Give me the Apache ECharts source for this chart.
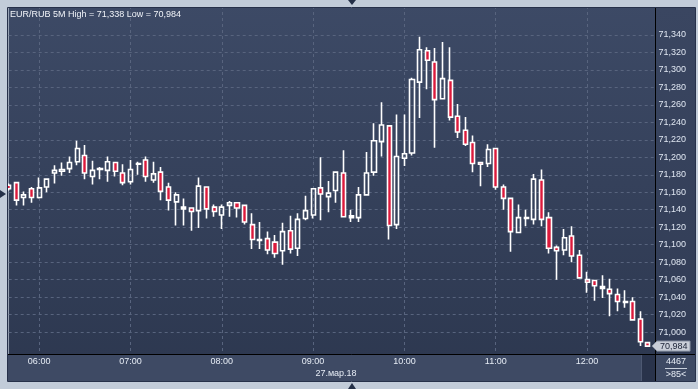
<!DOCTYPE html>
<html><head><meta charset="utf-8">
<script src="https://cdn.jsdelivr.net/npm/echarts@6/dist/echarts.min.js"></script>
<style>html,body{margin:0;padding:0;background:#c2ccd9}#c{width:698px;height:389px}</style>
</head><body><div id="c"></div>
<script>
const times = ['05:40','05:45','05:50','05:55','06:00','06:05','06:10','06:15','06:20','06:25','06:30','06:35','06:40','06:45','06:50','06:55',
'07:00','07:05','07:10','07:15','07:20','07:25','07:30','07:35','07:40','07:45','07:50','07:55',
'08:00','08:05','08:10','08:15','08:20','08:25','08:30','08:35','08:40','08:45','08:50','08:55',
'09:00','09:05','09:10','09:15','09:20','09:25','09:30','09:35','09:40','09:45','09:50','09:55',
'10:00','10:05','10:10','10:15','10:20','10:25','10:30','10:35','10:40','10:45','10:50','10:55',
'11:00','11:05','11:10','11:15','11:20','11:25','11:30','11:35','11:40','11:45','11:50','11:55',
'12:00','12:05','12:10','12:15','12:20','12:25','12:30','12:35','12:40','12:45'];
const opens = [71.168,71.171,71.154,71.164,71.154,71.166,71.182,71.184,71.187,71.195,71.202,71.178,71.186,71.185,71.194,71.182,
71.172,71.192,71.197,71.174,71.183,71.166,71.149,71.141,71.142,71.139,71.166,71.143,
71.134,71.145,71.148,71.145,71.123,71.105,71.107,71.103,71.093,71.116,71.096,71.130,
71.134,71.165,71.155,71.162,71.182,71.131,71.131,71.157,71.183,71.218,71.236,71.123,
71.199,71.205,71.286,71.322,71.309,71.267,71.288,71.247,71.231,71.217,71.194,71.193,
71.210,71.166,71.153,71.114,71.130,71.129,71.174,71.131,71.097,71.094,71.110,71.088,
71.060,71.059,71.052,71.049,71.043,71.034,71.035,71.015,70.988];
const closes = [71.164,71.151,71.157,71.154,71.165,71.175,71.185,71.186,71.194,71.210,71.182,71.185,71.187,71.195,71.184,71.171,
71.186,71.193,71.178,71.181,71.161,71.151,71.157,71.143,71.138,71.167,71.141,71.138,
71.143,71.148,71.142,71.126,71.106,71.106,71.094,71.090,71.115,71.095,71.129,71.139,
71.164,71.158,71.159,71.183,71.132,71.133,71.157,71.182,71.219,71.237,71.122,71.201,
71.204,71.289,71.323,71.311,71.266,71.290,71.246,71.229,71.215,71.193,71.192,71.209,
71.166,71.153,71.115,71.131,71.131,71.175,71.129,71.096,71.093,71.108,71.087,71.062,
71.057,71.053,71.050,71.044,71.035,71.035,71.014,70.989,70.984];
const highs = [71.170,71.172,71.161,71.166,71.177,71.175,71.191,71.194,71.201,71.219,71.214,71.196,71.189,71.201,71.194,71.192,
71.197,71.195,71.201,71.195,71.189,71.171,71.160,71.153,71.143,71.177,71.167,71.146,
71.146,71.150,71.149,71.146,71.136,71.126,71.115,71.111,71.125,71.133,71.136,71.156,
71.164,71.200,71.173,71.183,71.208,71.140,71.166,71.206,71.239,71.263,71.237,71.249,
71.249,71.291,71.338,71.326,71.325,71.332,71.326,71.261,71.246,71.225,71.194,71.215,
71.210,71.169,71.153,71.146,71.140,71.181,71.186,71.137,71.099,71.118,71.121,71.094,
71.069,71.060,71.065,71.061,71.050,71.048,71.040,71.024,70.988];
const lows = [71.162,71.145,71.145,71.148,71.153,71.160,71.170,71.179,71.182,71.191,71.175,71.169,71.175,71.172,71.178,71.168,
71.169,71.180,71.172,71.171,71.151,71.139,71.122,71.122,71.116,71.119,71.130,71.132,
71.118,71.132,71.131,71.123,71.095,71.095,71.089,71.085,71.077,71.090,71.087,71.128,
71.130,71.128,71.137,71.148,71.132,71.126,71.126,71.156,71.179,71.201,71.106,71.118,
71.190,71.202,71.245,71.278,71.211,71.267,71.242,71.222,71.213,71.183,71.167,71.189,
71.163,71.140,71.092,71.114,71.121,71.123,71.121,71.090,71.060,71.088,71.080,71.061,
71.045,71.036,71.039,71.018,71.024,71.028,71.014,70.984,70.984];
const titleText = 'EUR/RUB 5M High = 71,338 Low = 70,984';
const dateText = '27.мар.18';
const infoTop = '4467';
const infoBottom = '>85<';

const FONT = 'Liberation Sans, Arial, sans-serif';
const OUTER = '#c2ccd9';
const candleData = opens.map((o, i) => [o, closes[i], lows[i], highs[i]]);
const isHour = (i, v) => typeof v === 'string' && v.slice(3) === '00';
const gridColor = '#58647e';
const lineColors = [];
for (let k = 0; k < 22; k++) lineColors.push((k < 2 || k > 19) ? 'rgba(0,0,0,0)' : gridColor);
const fmt = v => v.toFixed(3).replace('.', ',');

const chart = echarts.init(document.getElementById('c'), null, {renderer: 'canvas'});
const baseGraphic = [
  {type:'rect', z:50, shape:{x:0,y:0,width:698,height:8}, style:{fill:OUTER}},
  {type:'rect', z:50, shape:{x:0,y:381,width:698,height:8}, style:{fill:OUTER}},
  {type:'rect', z:50, shape:{x:0,y:0,width:8,height:389}, style:{fill:OUTER}},
  {type:'rect', z:50, shape:{x:695,y:0,width:3,height:389}, style:{fill:OUTER}},
  {type:'rect', z:50, shape:{x:8,y:355,width:648,height:26}, style:{fill:'#3e4a64'}},
  {type:'rect', z:51, shape:{x:641,y:355,width:14,height:26}, style:{fill:'#29334b'}},
  {type:'line', z:52, shape:{x1:641.5,y1:355,x2:641.5,y2:381}, style:{stroke:'#4d5872',lineWidth:1}},
  {type:'rect', z:50, shape:{x:656,y:8,width:39,height:347}, style:{fill:new echarts.graphic.LinearGradient(0,0,0,1,[{offset:0,color:'#3a4661'},{offset:1,color:'#313c55'}])}},
  {type:'rect', z:50, shape:{x:656,y:355,width:39,height:26}, style:{fill:'#3e4a64'}},
  {type:'line', z:55, shape:{x1:655.5,y1:8,x2:655.5,y2:381}, style:{stroke:'#000',lineWidth:1}},
  {type:'line', z:55, shape:{x1:8,y1:354.5,x2:695,y2:354.5}, style:{stroke:'#000',lineWidth:1}},
  {type:'rect', z:56, shape:{x:7.5,y:7.5,width:688,height:374}, style:{fill:null,stroke:'#27314a',lineWidth:1}},
  {type:'polygon', z:56, shape:{points:[[348,0],[356,0],[352,5]]}, style:{fill:'#243048'}},
  {type:'polygon', z:56, shape:{points:[[348,389],[356,389],[352,383]]}, style:{fill:'#243048'}},
  {type:'polygon', z:56, shape:{points:[[0,190],[6,194],[0,198]]}, style:{fill:'#243048'}},
  {type:'text', z:70, style:{x:10,y:14.5,text:titleText,fill:'#f0f3f8',font:'9px '+FONT,textVerticalAlign:'middle'}},
  {type:'text', z:70, style:{x:336,y:373.5,text:dateText,fill:'#e6ecf5',font:'9px '+FONT,textAlign:'center',textVerticalAlign:'middle'}},
  {type:'text', z:70, style:{x:676,y:362,text:infoTop,fill:'#e6ecf5',font:'9px '+FONT,textAlign:'center',textVerticalAlign:'middle'}},
  {type:'line', z:70, shape:{x1:665,y1:368.5,x2:687,y2:368.5}, style:{stroke:'#c8d0dc',lineWidth:1}},
  {type:'text', z:70, style:{x:676,y:374.5,text:infoBottom,fill:'#e6ecf5',font:'9px '+FONT,textAlign:'center',textVerticalAlign:'middle'}}
];

const option = {
  backgroundColor: OUTER,
  animation: false,
  grid: {left: 8.69, right: 42.46, top: -5.48, bottom: 21.94, show: true, borderWidth: 0,
    backgroundColor: new echarts.graphic.LinearGradient(0,0,0,1,[{offset:0,color:'#3d4a66'},{offset:1,color:'#2d3850'}])},
  xAxis: [
    {type:'category', data: times, boundaryGap:false, z:1,
      axisLine:{show:false}, axisTick:{show:false}, axisLabel:{show:false, interval:isHour},
      splitLine:{show:true, interval:isHour, lineStyle:{color:gridColor, type:[3,3], width:1}}},
    {type:'category', data: times, boundaryGap:false, position:'bottom', offset:-12.56, z:60,
      axisLine:{show:false}, axisTick:{show:false}, splitLine:{show:false},
      axisLabel:{show:true, interval:isHour, margin:3, color:'#e6ecf5', fontSize:9, fontFamily:FONT}}
  ],
  yAxis: [
    {type:'value', position:'right', min:70.96, max:71.38, interval:0.02, z:1, scale:true,
      axisLine:{show:false}, axisTick:{show:false}, axisLabel:{show:false},
      splitLine:{show:true, lineStyle:{color:lineColors, type:[3,3], width:1}}},
    {type:'value', position:'right', min:70.96, max:71.38, interval:0.02, z:60, scale:true,
      axisLine:{show:false}, axisTick:{show:false}, splitLine:{show:false},
      axisLabel:{show:true, margin:3, color:'#dfe6f1', fontSize:9, fontFamily:FONT,
        formatter: v => (v > 71.345 || v < 70.99) ? '' : fmt(v)}}
  ],
  series: [{
    type:'candlestick', xAxisIndex:0, yAxisIndex:0, data: candleData, barWidth:4.6, z:2, clip:true,
    itemStyle:{color:'rgba(0,0,0,0)', color0:'#dc1a3c', borderColor:'#ffffff', borderColor0:'#ffffff', borderWidth:1.6}
  }],
  graphic: {elements: baseGraphic}
};
chart.setOption(option);

const lastClose = closes[closes.length - 1];
const py = chart.convertToPixel({yAxisIndex: 0}, lastClose);
chart.setOption({graphic: {elements: baseGraphic.concat([
  {type:'polygon', z:65, shape:{points:[[652,py],[657,py-5],[690,py-5],[690,py+5],[657,py+5]]}, style:{fill:'#c9ced8', stroke:'#8d96a6', lineWidth:1}},
  {type:'text', z:70, style:{x:660,y:py,text:fmt(lastClose),fill:'#1a2236',font:'9px '+FONT,textVerticalAlign:'middle'}}
])}});
</script></body></html>
